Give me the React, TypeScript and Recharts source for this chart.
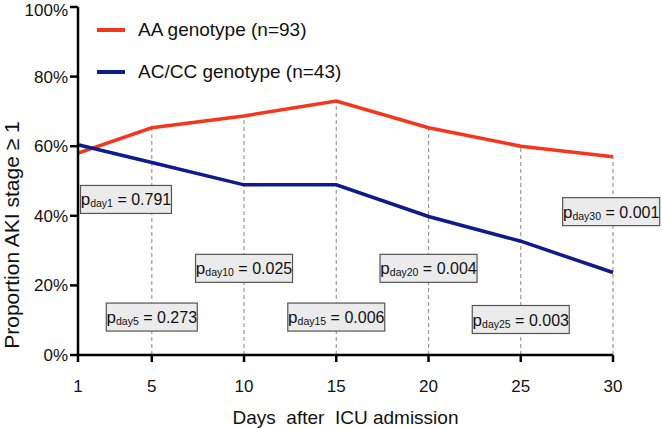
import {
  LineChart,
  Line,
  XAxis,
  YAxis,
  ReferenceLine,
  ReferenceDot,
} from "recharts";

const FONT = "'Liberation Sans', Arial, Helvetica, sans-serif";
const RED = "#F4361C";
const BLUE = "#0F1B8C";

const DAYS = [1, 5, 10, 15, 20, 25, 30];
const AA = [58, 65.3, 68.7, 73, 65.3, 60, 57];
const AC_CC = [60.4, 55.3, 48.9, 48.9, 39.8, 32.7, 23.7];
const Y_TICKS = [0, 20, 40, 60, 80, 100];

const P_DAYS = ["day1", "day5", "day10", "day15", "day20", "day25", "day30"];
const P_VALUES = ["0.791", "0.273", "0.025", "0.006", "0.004", "0.003", "0.001"];
// where each p-value box sits, in data units
const P_BOX_X = [3.6, 5, 10, 15, 20, 25, 29.9];
const P_BOX_Y = [44.7, 10.9, 24.9, 10.9, 24.9, 10.2, 41.2];

const SERIES = [
  { key: "aa", name: "AA genotype (n=93)", color: RED },
  { key: "accc", name: "AC/CC genotype (n=43)", color: BLUE },
];

const data = DAYS.map((d, i) => ({ day: d, aa: AA[i], accc: AC_CC[i] }));

function PBox(props: any) {
  const { cx, cy, sub, value } = props;
  const w = sub.length > 4 ? 97 : 91;
  const h = 28;
  return (
    <g>
      <rect
        x={cx - w / 2}
        y={cy - h / 2}
        width={w}
        height={h}
        fill="#ebebeb"
        stroke="#555"
        strokeWidth={1.2}
      />
      <text
        x={cx}
        y={cy + 6}
        textAnchor="middle"
        fontFamily={FONT}
        fontSize={16}
        fill="#111"
      >
        <tspan fontSize={17}>p</tspan>
        <tspan fontSize={10.5} dy={2}>
          {sub}
        </tspan>
        <tspan dy={-2}>{" = " + value}</tspan>
      </text>
    </g>
  );
}

function YLabel({ viewBox }: any) {
  const x = 11;
  const y = viewBox.y + viewBox.height / 2 + 54;
  return (
    <text
      x={x}
      y={y}
      transform={`rotate(-90 ${x} ${y})`}
      textAnchor="middle"
      dominantBaseline="central"
      fontFamily={FONT}
      fontSize={21}
      fill="#111"
    >
      Proportion AKI stage ≥ 1
    </text>
  );
}

const axisStyle = { stroke: "#000", strokeWidth: 2.5 };

export default function App() {
  return (
    <div style={{ position: "absolute", left: 0, top: 0, width: 662, height: 428, background: "#fff" }}>
      <LineChart
        width={662}
        height={428}
        data={data}
        margin={{ top: 7, right: 49, left: 0, bottom: 0 }}
      >
        <XAxis
          dataKey="day"
          type="number"
          domain={[1, 30]}
          ticks={DAYS}
          height={73}
          tickSize={7}
          tickMargin={18}
          axisLine={axisStyle}
          tickLine={axisStyle}
          tick={{ fill: "#111", fontSize: 17, fontFamily: FONT }}
          label={{
            value: "Days\u00A0\u00A0after\u00A0\u00A0ICU admission",
            position: "insideBottom",
            offset: 4,
            fill: "#111",
            fontSize: 19,
            fontFamily: FONT,
          }}
        />
        <YAxis
          type="number"
          domain={[0, 100]}
          ticks={Y_TICKS}
          width={78}
          tickSize={8}
          tickMargin={2}
          axisLine={axisStyle}
          tickLine={axisStyle}
          tickFormatter={(v) => `${v}%`}
          tick={{ fill: "#111", fontSize: 17, fontFamily: FONT }}
          label={<YLabel />}
        />
        {DAYS.slice(1).map((d, i) => (
          <ReferenceLine
            key={d}
            segment={[
              { x: d, y: 0 },
              { x: d, y: AA[i + 1] },
            ]}
            stroke="#9a9a9a"
            strokeWidth={1.2}
            strokeDasharray="4 3"
          />
        ))}
        {SERIES.map((s) => (
          <Line
            key={s.key}
            dataKey={s.key}
            name={s.name}
            stroke={s.color}
            strokeWidth={3.5}
            dot={false}
            activeDot={false}
            type="linear"
            isAnimationActive={false}
          />
        ))}
        {P_DAYS.map((sub, i) => (
          <ReferenceDot
            key={sub}
            x={P_BOX_X[i]}
            y={P_BOX_Y[i]}
            r={0}
            shape={(p: any) => <PBox {...p} sub={sub} value={P_VALUES[i]} />}
          />
        ))}
      </LineChart>
      <div style={{ position: "absolute", left: 97, top: 17, fontFamily: FONT }}>
        {SERIES.map((s) => (
          <div key={s.key} style={{ display: "flex", alignItems: "center", height: 26, marginBottom: 16 }}>
            <div style={{ width: 28, height: 4, background: s.color, marginRight: 13 }} />
            <span style={{ fontSize: 19, color: "#111" }}>{s.name}</span>
          </div>
        ))}
      </div>
    </div>
  );
}
